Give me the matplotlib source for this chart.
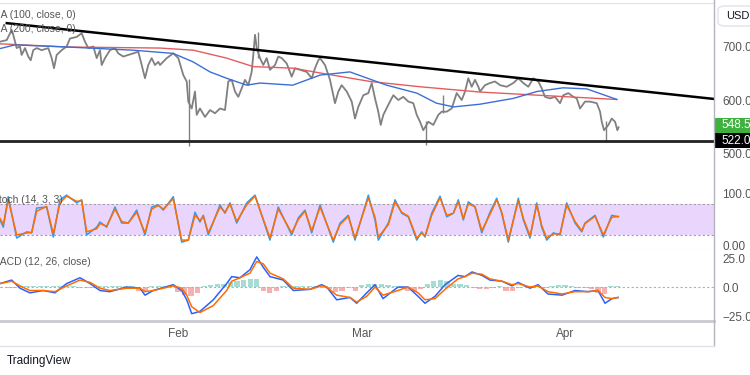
import numpy as np
import matplotlib.pyplot as plt
from matplotlib.lines import Line2D
from matplotlib.patches import Rectangle, FancyBboxPatch

plt.rcParams['font.family'] = ['Liberation Sans', 'DejaVu Sans']

# time axis: days counted from 1 Feb
price_days = [-27.13, -26.11, -25.35, -25.11, -24.59, -24.09, -23.83, -23.32, -22.82, -22.45,
              -22.06, -21.54, -20.78, -19.77, -19.25, -18.90, -18.49, -17.73, -16.97, -16.46,
              -15.44, -14.68, -14.18, -13.67, -12.91, -12.39, -11.89, -11.63, -11.13, -10.37,
              -9.60, -9.10, -8.34, -7.58, -6.81, -6.05, -5.53, -5.03, -4.53, -4.01, -3.51, -3.00,
              -2.74, -1.72, -0.72, 0.05, 0.81, 1.33, 1.57, 2.09, 2.59, 2.85, 3.35, 4.12, 4.88,
              5.64, 6.40, 7.16, 7.67, 8.19, 8.69, 9.19, 9.71, 10.21, 10.72, 11.23, 11.48, 11.74,
              12.00, 12.50, 13.00, 13.52, 14.02, 14.79, 15.29, 15.81, 16.57, 17.33, 17.84, 18.60,
              19.62, 20.38, 20.88, 21.39, 21.65, 22.41, 23.17, 23.93, 24.44, 24.95, 25.72, 26.48,
              26.98, 27.48, 28.25, 29.01, 29.53, 30.03, 30.53, 30.90, 31.30, 32.06, 32.82, 33.58,
              34.34, 35.11, 35.87, 36.39, 36.89, 37.39, 38.16, 38.92, 39.68, 40.20, 40.96, 41.72,
              42.48, 43.25, 43.75, 44.25, 44.77, 45.27, 45.78, 46.04, 46.80, 47.56, 48.32, 49.09,
              50.11, 51.11, 51.87, 52.64, 53.40, 54.16, 54.92, 55.44, 55.95, 56.71, 57.47, 58.23,
              58.73, 59.50, 60.26, 60.78, 61.28, 62.04, 62.80, 63.83, 64.33, 64.59, 64.94, 65.60,
              66.11, 66.62, 66.97, 67.16]
price = [710, 713, 732, 723, 698, 701, 685, 698, 682, 675,
         694, 698, 694, 698, 679, 660, 685, 694, 701, 716,
         719, 726, 710, 698, 701, 679, 694, 666, 679, 694,
         698, 688, 682, 685, 688, 691, 666, 641, 666, 679, 666, 672,
         666, 679, 688, 679, 647, 635, 597, 584, 616, 572, 584, 568, 581,
         575, 584, 581, 635, 638, 616, 606, 622, 638, 628, 653, 685, 723,
         698, 679, 666, 679, 657, 666, 682, 679, 669, 644, 660, 657,
         653, 641, 660, 675, 679, 666, 638, 594, 616, 628, 616, 597,
         565, 587, 609, 613, 632, 603, 578, 553, 572, 591, 609, 600,
         606, 597, 594, 572, 559, 543, 559, 553, 572, 578, 578, 584,
         613, 600, 616, 641, 625, 638, 625, 616, 628, 632, 635, 628,
         625, 632, 641, 632, 625, 641, 635, 622, 606, 603, 606, 594,
         609, 613, 606, 603, 584, 597, 597, 594, 578, 559, 543, 553,
         565, 559, 543, 548.5]
wick_days = [1.72, 12.25, 37.77, 40.44, 65.2]
wick_low = [513, 680, 515, 575, 521]
wick_high = [640, 729, 560, 609, 560]

ma100_days = [-27.13, -24.85, -16.9, -6.9, -0.76, 2.29, 4.88, 7.42, 10.47, 12.5, 17.5, 21.65,
              26.2, 31.8, 36.4, 39.4, 42.0, 46.0, 51.1, 54.7, 58.7, 62.3, 66.9]
ma100 = [697, 704, 700, 694, 688, 672, 653, 641, 628, 632, 628, 647,
         653, 628, 613, 594, 587, 592, 603, 616, 623, 621, 601]
ma200_days = [-27.13, -16.9, -2.74, 2.33, 7.42, 11.48, 17.58, 21.65, 29.27, 36.89, 46.04, 66.87]
ma200 = [706, 700, 698, 694, 679, 663, 660, 651, 635, 625, 615, 601]

trend_days = [-26.1, 81.7]
trend_price = [745, 602]
support = 522.0
last_price = 548.5

stoch_days = [-27.13, -26.63, -25.87, -24.59, -23.06, -22.30, -21.54, -20.02, -19.01, -17.99,
              -16.97, -15.44, -14.68, -13.92, -12.39, -11.89, -10.87, -9.60, -8.58, -7.58,
              -6.30, -5.03, -4.01, -3.00, -2.24, -0.72, 0.56, 1.57, 2.59, 3.35, 3.86, 4.62,
              6.40, 7.16, 7.93, 8.95, 10.47, 11.74, 14.02, 15.29, 17.33, 18.34, 19.36, 20.38,
              21.65, 23.67, 24.70, 25.96, 26.98, 29.01, 30.03,
              30.53, 32.06, 33.08, 34.10, 35.11, 36.39, 37.15, 37.65, 38.67, 39.94, 40.96,
              41.97, 42.73, 43.49, 44.25, 45.27, 46.30, 47.56, 48.58, 49.34, 50.35, 51.87,
              52.64, 53.66, 54.68, 55.44, 56.20, 57.21, 58.23, 59.25, 60.52, 61.54, 62.04,
              63.57, 64.83, 66.11, 67.12]
stoch_k = [49, 35, 94, 14, 26, 24, 72, 74, 16, 88, 97, 82, 88, 20, 35, 45, 35, 74, 43, 43, 68, 20,
           74, 78, 68, 94, 6, 10, 64, 45, 58, 20, 78, 62, 82, 43, 82, 97, 10, 74, 20, 53, 68, 24,
           78, 6, 43, 58, 10, 97, 49,
           10, 43, 88, 62, 55, 10, 26, 16, 62, 95, 55, 62, 88, 49, 84, 74, 24, 64, 91, 62, 6, 91,
           49, 14, 82, 35, 10, 24, 20, 82, 43, 26, 43, 58, 16, 58, 55]
stoch_d = [52, 40, 88, 20, 24, 25, 66, 75, 22, 82, 95, 85, 86, 26, 32, 42, 37, 70, 46, 43, 64, 24,
           70, 77, 70, 90, 10, 10, 58, 48, 56, 24, 74, 64, 80, 46, 78, 95, 14, 70, 24, 50, 66, 28,
           74, 10, 40, 56, 14, 92, 54,
           16, 40, 84, 64, 56, 14, 24, 18, 58, 92, 58, 62, 84, 52, 80, 75, 28, 60, 88, 64, 10, 86,
           52, 18, 78, 38, 14, 22, 22, 78, 46, 28, 42, 56, 20, 54, 56]

macd_days = [-27.13, -25.35, -24.09, -22.56, -20.53, -18.75, -16.97, -14.94, -13.41, -11.89,
             -10.37, -7.82, -5.79, -5.03, -3.77, -0.72, 0.56, 1.33, 2.09, 3.35, 5.38, 7.42,
             8.19, 9.45, 10.98, 12.00, 13.00, 14.02, 16.05, 17.58, 20.12, 21.90, 22.67, 24.19,
             26.22, 27.24, 28.77, 30.03,
             31.25, 33.54, 35.06, 36.59, 37.65, 39.18, 40.70, 42.68, 43.75, 44.82, 46.34, 47.56,
             49.39, 50.91, 51.83, 53.66, 54.88, 56.40, 58.54, 60.52, 62.50, 64.02, 65.09, 66.16,
             67.07]
macd = [3, 6, -1, -5, -3, -5, 3, 8, 3, -3, -4, 0, -1, -7, -3, 2, -3, -11, -23, -21, -11, 3, 9, 8,
        15, 26, 17, 9, 6, -3, -2, 2, 0, -11, -9, -14, -5, 2,
        -10, 0, 0, -8, -14, -8, 2, 10, 9, 13, 10, 6, 5, 1, 4, -1, 2, -6, -7, -3, -4, -3, -14,
        -10, -9]
signal = [3, 5, 1, -3, -3, -4, 1, 6, 4, -1, -3, -1, -1, -4, -3, 1, -1, -7, -17, -22, -16, -3, 5,
          8, 12, 22, 20, 12, 7, -1, -2, 1, 0, -7, -9, -13, -8, 0,
          -7, -3, 0, -5, -11, -10, -2, 7, 9, 12, 11, 7, 5, 2, 3, 0, 1, -4, -6, -4, -4, -3, -9,
          -10, -9]
hist_days = list(range(-27, 68))
hist = [-1, -1, -1, 1, 1, 1, 1, 1, 0.5, 0.5, 0.5, 0.5, -0.5, -0.5, -0.5, 1, 1, 1, 1, 1, 1,
        -3, -3, 0.5, 0.5, 0.5, 0.5, -4, -7, -8, -5, 1, 2, 3, 3, 4, 5, 6, 7, 7, -3, -5, -3,
        1, 1, 0.5, 1, 0.5, 1, -1, -2, -4, -3, -1, -3, 2, 3, 3, 3, 2, 1, -1, -3, -4, -2,
        3, 5, 6, 5, 3, 3, 2, -1, -2, -2, -1, 0.5, -3, -3, -1, 1, -1, 1, -1, 1, 2, 2,
        1, -1, -1, -2, -5, -6, 1, 1]

month_ticks = [0, 28, 59]
month_labels = ['Feb', 'Mar', 'Apr']

W, H = 750, 375
fig = plt.figure(figsize=(7.5, 3.75), dpi=100)
sep = 714

def box(top, bottom):
    return [0, 1 - bottom / H, sep / W, (bottom - top) / H]

ax_p = fig.add_axes(box(3, 188))
ax_s = fig.add_axes(box(188, 249))
ax_m = fig.add_axes(box(249, 321))

xlim = (-27.13, 81.7)
grid_c = '#e0e3eb'
lab_c = '#555555'
for ax in (ax_p, ax_s, ax_m):
    ax.set_xlim(*xlim)
    for s in ('left', 'right', 'top'):
        ax.spines[s].set_visible(False)
    ax.spines['bottom'].set_color(grid_c)
    ax.yaxis.tick_right()
    ax.tick_params(axis='y', length=0, pad=6, labelsize=8.5, labelcolor=lab_c)
    ax.tick_params(axis='x', length=0)
    ax.set_xticks([])
ax_p.spines['top'].set_visible(True)
ax_p.spines['top'].set_color(grid_c)

# price panel
ax_p.set_ylim(434, 783)
ax_p.vlines(wick_days, wick_low, wick_high, color='#808080', lw=1)
ax_p.plot(price_days, price, color='#808080', lw=1.3)
ax_p.plot(ma200_days, ma200, color='#e35d5d', lw=1)
ax_p.plot(ma100_days, ma100, color='#3b6fd6', lw=1)
ax_p.plot(trend_days, trend_price, color='black', lw=1.8)
ax_p.axhline(support, color='#222222', lw=2)
ax_p.set_yticks([500, 600, 700])
ax_p.set_yticklabels(['500.0', '600.0', '700.0'])

# stochastic panel
ax_s.set_ylim(-7.2, 110.8)
ax_s.axhspan(20, 80, color='#ead6fc', lw=0)
ax_s.axhline(80, color='#a0a0a0', lw=0.8, ls=(0, (2, 2)))
ax_s.axhline(20, color='#a0a0a0', lw=0.8, ls=(0, (2, 2)))
ax_s.plot(stoch_days, stoch_k, color='#2a9df4', lw=1.1)
ax_s.plot(stoch_days, stoch_d, color='#ff6d00', lw=1.1)
ax_s.set_yticks([0, 100])
ax_s.set_yticklabels(['0.00', '100.0'])

# MACD panel
ax_m.set_ylim(-29.3, 32.8)
ax_m.axhline(0, color='#b0b0b0', lw=0.8, ls=(0, (2, 2)))
bar_colors = ['#a6dcd3' if v >= 0 else '#f7b0b0' for v in hist]
ax_m.bar(hist_days, hist, width=0.8, color=bar_colors)
ax_m.plot(macd_days, macd, color='#2962ff', lw=1.1)
ax_m.plot(macd_days, signal, color='#ff6d00', lw=1.1)
ax_m.set_yticks([-25, 0, 25])
ax_m.set_yticklabels(['\u221225.0', '0.0', '25.0'])
ax_m.spines['bottom'].set_color('#c8cad0')
ax_m.spines['bottom'].set_linewidth(2)
ax_m.set_xticks(month_ticks)
ax_m.set_xticklabels(month_labels)
ax_m.tick_params(axis='x', length=0, pad=5, labelsize=8.5, labelcolor=lab_c)

# frame lines
fig.add_artist(Line2D([sep / W, sep / W], [1 - 346 / H, 1], color='#b2b5be', lw=1))
fig.add_artist(Line2D([0, sep / W], [1 - 346 / H, 1 - 346 / H], color=grid_c, lw=1))

# indicator captions
cap = dict(fontsize=7.5, color=lab_c, va='center', ha='left')
fig.text(-15 / W, 1 - 15 / H, 'SMA (100, close, 0)', **cap)
fig.text(-15 / W, 1 - 29 / H, 'SMA (200, close, 0)', **cap)
fig.text(-8 / W, 1 - 200 / H, 'Stoch (14, 3, 3)', **cap)
fig.text(-9 / W, 1 - 262 / H, 'MACD (12, 26, close)', **cap)
fig.text(7 / W, 1 - 361 / H, 'TradingView', fontsize=8.5, color='#131722', va='center', ha='left')

# price scale labels
fig.add_artist(FancyBboxPatch((718 / W, 1 - 26 / H), 40 / W, 20 / H,
                              boxstyle='round,pad=0,rounding_size=0.01',
                              fc='white', ec=grid_c, lw=1))
fig.text(726 / W, 1 - 16 / H, 'USD', fontsize=8, color='#131722', va='center', ha='left')
fig.add_artist(Rectangle((sep / W, 1 - 133 / H), 40 / W, 15 / H, fc='#3fb13f', ec='none'))
fig.text(721 / W, 1 - 125.5 / H, f'{last_price:.1f}', fontsize=8.5, color='white', va='center', ha='left')
fig.add_artist(Rectangle((sep / W, 1 - 148 / H), 40 / W, 15 / H, fc='black', ec='none'))
fig.text(721 / W, 1 - 141 / H, f'{support:.1f}', fontsize=8.5, color='white', va='center', ha='left')

fig.savefig('out.png', dpi=100)
